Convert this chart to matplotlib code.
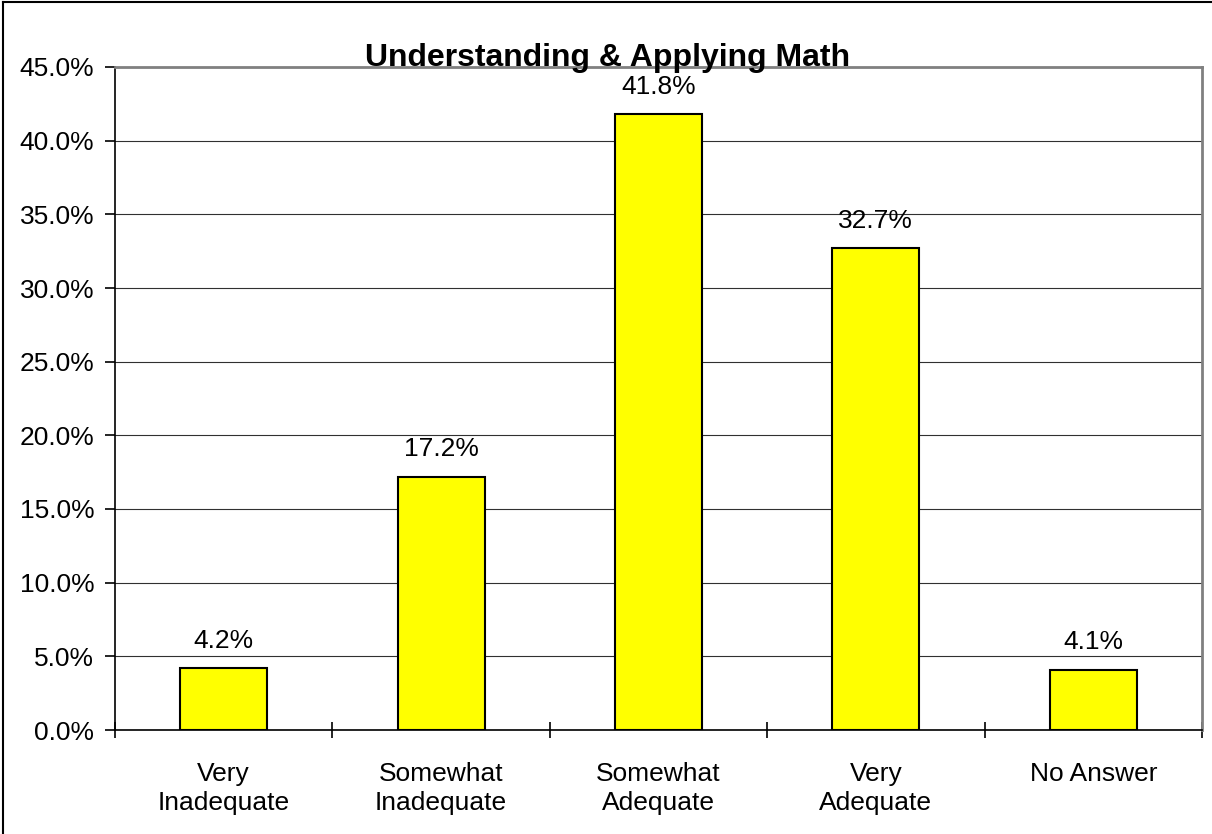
import matplotlib.pyplot as plt
from matplotlib.lines import Line2D
from matplotlib.ticker import FixedLocator, FuncFormatter
import numpy as np

plt.rcParams['font.family'] = ['Liberation Sans', 'DejaVu Sans']

# Datos del gráfico
categories = ['Very\nInadequate', 'Somewhat\nInadequate', 'Somewhat\nAdequate',
              'Very\nAdequate', 'No Answer']
values = [4.2, 17.2, 41.8, 32.7, 4.1]
title = 'Understanding & Applying Math'

fig = plt.figure(figsize=(12.12, 8.34), dpi=100)
ax = fig.add_axes([115 / 1212, 104 / 834, 1087 / 1212, 663 / 834])

x = np.arange(len(categories))
ax.bar(x, values, width=0.4, color='#FFFF00', edgecolor='black',
       linewidth=1.5, zorder=3)

for xi, v in zip(x, values):
    ax.annotate(f'{v:.1f}%', (xi, v), xytext=(0, 14.5), textcoords='offset points',
                ha='center', va='baseline', fontsize=19)

ax.set_xlim(-0.5, len(categories) - 0.5)
ax.set_ylim(0, 45)
ax.set_yticks(np.arange(0, 46, 5))
ax.yaxis.set_major_formatter(FuncFormatter(lambda v, p: f'{v:.1f}%'))
ax.set_xticks(x)
ax.set_xticklabels(categories, fontsize=19, linespacing=1.25)
ax.xaxis.set_minor_locator(FixedLocator(np.arange(-0.5, len(categories), 1.0)))
ax.tick_params(axis='x', which='major', length=0, pad=23)
ax.tick_params(axis='x', which='minor', length=11, direction='inout', width=1.2)
ax.tick_params(axis='y', length=7, direction='out', width=1.2, labelsize=19, pad=8)

ax.grid(axis='y', color='#303030', linewidth=0.8, zorder=0)
for side in ['top', 'right']:
    ax.spines[side].set_color('#808080')
    ax.spines[side].set_linewidth(2)
for side in ['left', 'bottom']:
    ax.spines[side].set_color('black')
    ax.spines[side].set_linewidth(1.2)
ax.spines['bottom'].set_zorder(4)

fig.text(608 / 1212, (834 - 66) / 834, title, ha='center', va='baseline',
         fontsize=23, fontweight='bold')

# borde exterior (solo arriba e izquierda)
fig.add_artist(Line2D([3 / 1212, 3 / 1212], [0, 1 - 2 / 834], color='black', linewidth=1.5))
fig.add_artist(Line2D([3 / 1212, 1], [1 - 2 / 834, 1 - 2 / 834], color='black', linewidth=1.5))

fig.savefig('out.png', dpi=100)
